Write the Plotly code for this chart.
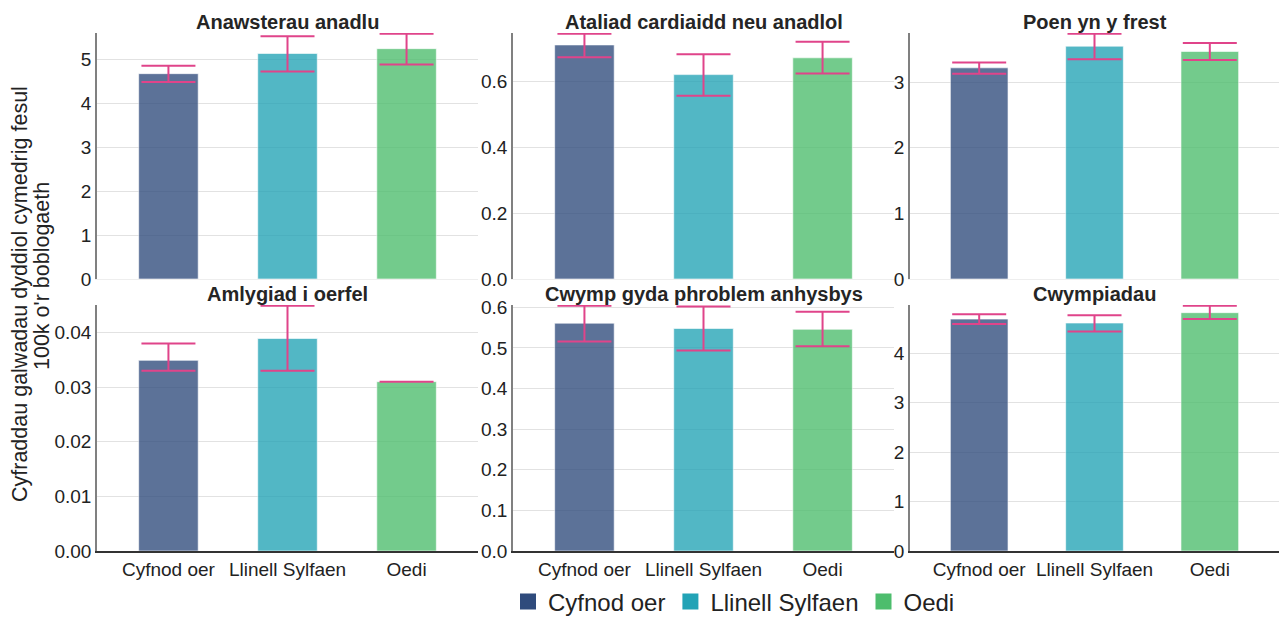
import plotly.graph_objects as go

categories = ["Cyfnod oer", "Llinell Sylfaen", "Oedi"]
colors = ["#2f4b7c", "#22a3b6", "#4dbd6d"]

panel_titles = [
    "Anawsterau anadlu",
    "Ataliad cardiaidd neu anadlol",
    "Poen yn y frest",
    "Amlygiad i oerfel",
    "Cwymp gyda phroblem anhysbys",
    "Cwympiadau",
]

anawsterau_vals = [4.68, 5.14, 5.25]
anawsterau_upper = [4.86, 5.53, 5.59]
anawsterau_lower = [4.49, 4.73, 4.89]

ataliad_vals = [0.710, 0.620, 0.671]
ataliad_upper = [0.744, 0.682, 0.720]
ataliad_lower = [0.673, 0.556, 0.623]

poen_vals = [3.22, 3.55, 3.47]
poen_upper = [3.30, 3.74, 3.60]
poen_lower = [3.13, 3.35, 3.34]

amlygiad_vals = [0.0349, 0.0389, 0.0310]
amlygiad_upper = [0.0380, 0.0449, 0.0310]
amlygiad_lower = [0.0330, 0.0330, 0.0310]

cwymp_vals = [0.561, 0.548, 0.546]
cwymp_upper = [0.604, 0.602, 0.589]
cwymp_lower = [0.516, 0.494, 0.504]

cwympiadau_vals = [4.69, 4.61, 4.82]
cwympiadau_upper = [4.79, 4.77, 4.96]
cwympiadau_lower = [4.59, 4.44, 4.69]

panels = [
    (anawsterau_vals, anawsterau_upper, anawsterau_lower, 1, "d"),
    (ataliad_vals, ataliad_upper, ataliad_lower, 0.2, ".1f"),
    (poen_vals, poen_upper, poen_lower, 1, "d"),
    (amlygiad_vals, amlygiad_upper, amlygiad_lower, 0.01, ".2f"),
    (cwymp_vals, cwymp_upper, cwymp_lower, 0.1, ".1f"),
    (cwympiadau_vals, cwympiadau_upper, cwympiadau_lower, 1, "d"),
]

# page body has an 8px margin, so the figure is sized to fit inside the window
W, H = 1271, 612
col_px = [(89, 470), (505, 886), (902, 1271)]
row_px = [(25, 271), (297, 543)]

fig = go.Figure()
FONT = "Liberation Sans, Arial, sans-serif"
layout_axes = {}
annotations = []

for i, (vals, up, lo, dtick, fmt) in enumerate(panels):
    r, c = divmod(i, 3)
    n = i + 1
    xa = "x" if n == 1 else f"x{n}"
    ya = "y" if n == 1 else f"y{n}"
    for k, cat in enumerate(categories):
        fig.add_trace(go.Bar(
            x=[cat], y=[vals[k]],
            xaxis=xa, yaxis=ya,
            name=cat, legendgroup=cat, showlegend=False,
            width=0.5, cliponaxis=False,
            marker=dict(color=colors[k], opacity=0.78,
                        line=dict(color="rgba(255,255,255,0.6)", width=1)),
            error_y=dict(type="data", symmetric=False,
                         array=[up[k] - vals[k]], arrayminus=[vals[k] - lo[k]],
                         color="#e0448a", thickness=2, width=27),
            hoverinfo="x+y",
        ))
    x0, x1 = col_px[c]
    ytop, ybot = row_px[r]
    xd = [x0 / W, x1 / W]
    yd = [1 - ybot / H, 1 - ytop / H]
    ymax = max(up) * 1.003
    xkey = "xaxis" if n == 1 else f"xaxis{n}"
    ykey = "yaxis" if n == 1 else f"yaxis{n}"
    layout_axes[xkey] = dict(
        domain=xd, anchor=ya, type="category",
        categoryorder="array", categoryarray=categories,
        range=[-0.6, 2.6], automargin=False,
        showticklabels=(r == 1),
        tickfont=dict(size=19, color="#222", family=FONT),
        showline=True,
        linecolor="#333333" if r == 1 else "#eeeeee",
        linewidth=1.5 if r == 1 else 1,
        showgrid=False, ticks="", fixedrange=True,
    )
    layout_axes[ykey] = dict(
        domain=yd, anchor=xa, automargin=False,
        range=[0, ymax], dtick=dtick, tick0=0, tickformat=fmt,
        showline=True, linecolor="#808080", linewidth=1.5,
        showgrid=True, gridcolor="#e2e2e2", gridwidth=1,
        zeroline=False, ticks="",
        tickfont=dict(size=19, color="#222", family=FONT),
        fixedrange=True,
    )
    annotations.append(dict(
        text=f"<b>{panel_titles[i]}</b>", xref="paper", yref="paper",
        x=(xd[0] + xd[1]) / 2, y=1 - (ytop - 11) / H,
        xanchor="center", yanchor="middle", showarrow=False,
        font=dict(size=20, color="#252525", family=FONT),
    ))

# legend-only entries (full-colour squares like the reference legend)
for k, cat in enumerate(categories):
    fig.add_trace(go.Scatter(
        x=[None], y=[None], mode="markers", name=cat, legendgroup=cat,
        marker=dict(symbol="square", size=16, color=colors[k]),
        showlegend=True, hoverinfo="skip",
    ))

annotations.append(dict(
    text="Cyfraddau galwadau dyddiol cymedrig fesul", xref="paper", yref="paper",
    x=12 / W, y=1 - 286 / H, xanchor="center", yanchor="middle",
    textangle=-90, showarrow=False,
    font=dict(size=21.5, color="#222", family=FONT),
))
annotations.append(dict(
    text="100k o'r boblogaeth", xref="paper", yref="paper",
    x=34 / W, y=1 - 268 / H, xanchor="center", yanchor="middle",
    textangle=-90, showarrow=False,
    font=dict(size=21.5, color="#222", family=FONT),
))

fig.update_layout(
    width=W, height=H,
    margin=dict(l=0, r=0, t=0, b=0, autoexpand=False),
    paper_bgcolor="white", plot_bgcolor="white",
    barmode="overlay",
    font=dict(family=FONT, color="#222"),
    legend=dict(orientation="h", x=726 / W, xanchor="center",
                y=1 - 594 / H, yanchor="middle",
                font=dict(size=24, color="#222", family=FONT),
                itemclick=False, itemdoubleclick=False,
                itemsizing="trace", tracegroupgap=0, itemwidth=30),
    annotations=annotations,
    **layout_axes,
)

fig.write_html("out.html")
